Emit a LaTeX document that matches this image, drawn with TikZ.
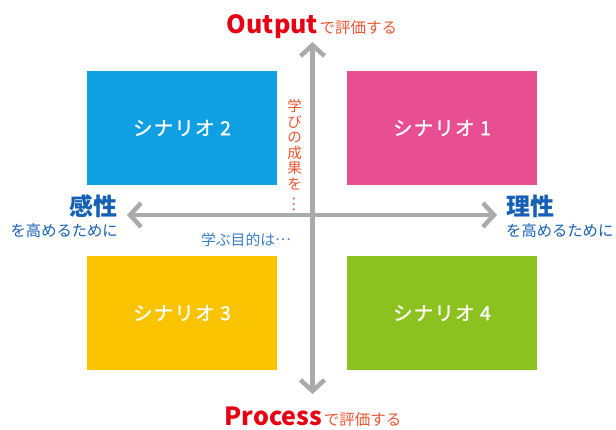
\documentclass[tikz,border=0pt]{standalone}
\usepackage{fontspec}
\setmainfont{Noto Sans CJK JP}
\newfontfamily\boxfont[LetterSpace=6,FakeBold=1.3]{Noto Sans CJK JP}
\usetikzlibrary{arrows.meta}
\definecolor{boxblue}{HTML}{0FA0E4}
\definecolor{boxpink}{HTML}{E84F93}
\definecolor{boxyellow}{HTML}{F9C300}
\definecolor{boxgreen}{HTML}{8CC220}
\definecolor{axisgray}{HTML}{AAAAAA}
\definecolor{titlered}{HTML}{E60012}
\definecolor{subred}{HTML}{EA5532}
\definecolor{darkblue}{HTML}{1560B4}
\definecolor{lightblue}{HTML}{3C7CC8}
\tikzset{
  scenario/.style={fill=#1, draw=none, minimum width=190pt, minimum height=114pt, inner sep=0pt,
    text=white, font=\boxfont\fontsize{19.5}{21}\selectfont},
  axis/.style={draw=axisgray, line width=4.5pt,
    {Straight Barb[length=11pt,width=24pt]}-{Straight Barb[length=11pt,width=24pt]}},
  bigblue/.style={font=\fontsize{24}{26}\selectfont\bfseries, text=darkblue},
  smallblue/.style={font=\fontsize{15.3}{17}\selectfont, text=darkblue},
  lbl/.style={inner sep=0pt}
}
\newcommand{\titlepart}[1]{{\fontsize{25}{28}\selectfont\bfseries\color{titlered}#1}\,{\fontsize{15.5}{17}\selectfont\color{subred}で評価する}}
\newcommand{\midellipsis}{\raisebox{0.33em}{…}}
\begin{document}
\begin{tikzpicture}[x=1pt,y=-1pt]
\useasboundingbox (0,0) rectangle (616,429);
% boxes
\node[scenario=boxpink] (s1) at (442,128) {シナリオ 1};
\node[scenario=boxblue] (s2) at (182,128) {シナリオ 2};
\node[scenario=boxyellow] (s3) at (182,313) {シナリオ 3};
\node[scenario=boxgreen] (s4) at (442,313) {シナリオ 4};
% axes
\coordinate (top) at (312.5,42);
\coordinate (bottom) at (312.5,394);
\coordinate (left) at (127,215);
\coordinate (right) at (497,215);
\draw[axis] (bottom) -- (top);
\draw[axis] (left) -- (right);
% titles
\node[lbl, anchor=base] (out) at (312,33) {\titlepart{Output}};
\node[lbl, anchor=base] (proc) at (313,425) {\titlepart{Process}};
% left / right
\node[lbl, bigblue, anchor=base east] (kansei) at (118,215) {感性};
\node[lbl, smallblue, anchor=base east] (kansei2) at (118,236) {を高めるために};
\node[lbl, bigblue, anchor=base west] (risei) at (506,215) {理性};
\node[lbl, smallblue, anchor=base west] (risei2) at (506,236) {を高めるために};
% inner labels
\node[lbl, anchor=base east, font=\fontsize{14.8}{16}\selectfont, text=lightblue] (purpose) at (291,245) {学ぶ目的は\midellipsis};
\node[lbl, anchor=north, font=\fontsize{14.5}{15.6}\selectfont, text=subred, align=center] (result) at (294.5,99)
  {学\\び\\の\\成\\果\\を\\\rotatebox[origin=c]{-90}{…}};
\end{tikzpicture}
\end{document}
